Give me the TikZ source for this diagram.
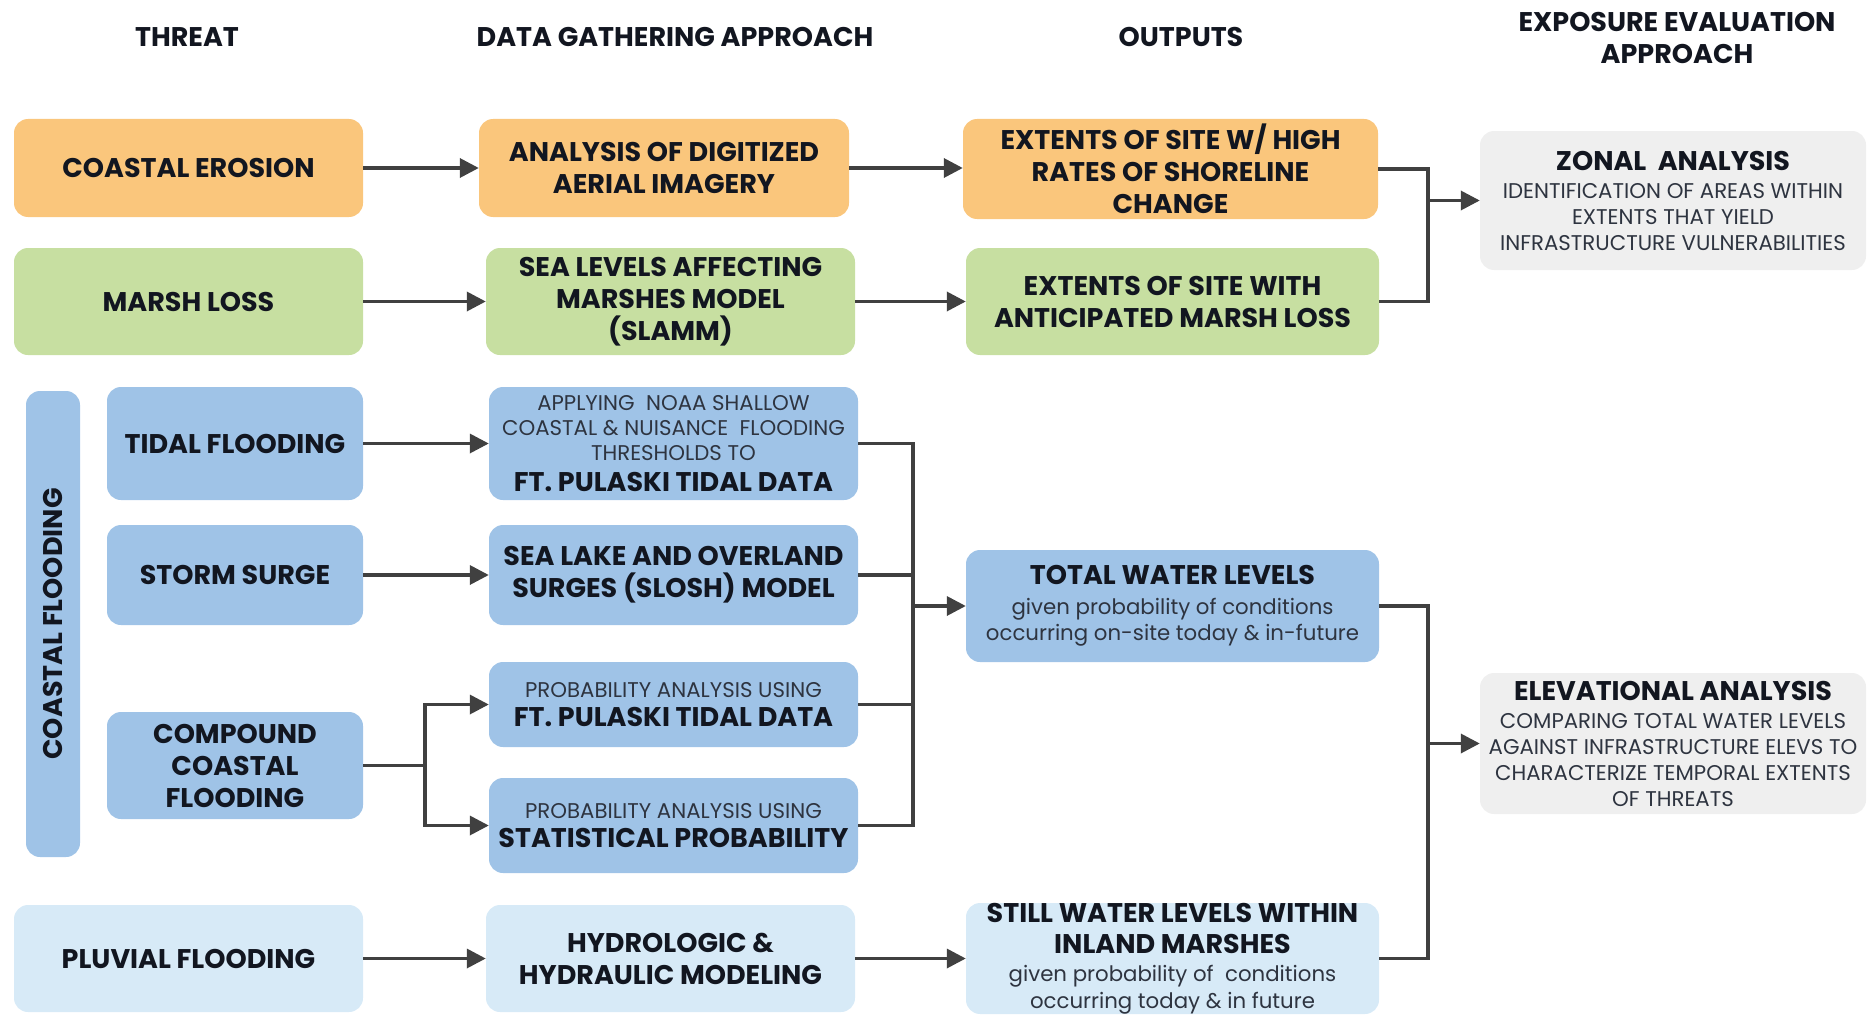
\documentclass[tikz,border=0pt]{standalone}
\usepackage{fontspec}
\setmainfont{Poppins}
\usetikzlibrary{arrows.meta}
\definecolor{cOr}{HTML}{FAC67C}
\definecolor{cGr}{HTML}{C7DFA1}
\definecolor{cBl}{HTML}{9FC3E7}
\definecolor{cLb}{HTML}{D7EAF7}
\definecolor{cGy}{HTML}{EFEFEF}
\definecolor{cLn}{HTML}{404040}
\definecolor{cTx}{HTML}{121620}
\definecolor{cSub}{HTML}{2E3440}
\newcommand{\bigtx}{\fontsize{27}{32}\selectfont\bfseries\color{cTx}}
\newcommand{\smtx}{\fontsize{21.3}{32}\selectfont\mdseries\color{cSub}}
\begin{document}
\begin{tikzpicture}[x=1pt,y=-1pt,
  box/.style={rounded corners=14pt, align=center, inner sep=0pt, text=cTx, font=\bigtx},
  hdr/.style={align=center, text=cTx, font=\bigtx},
  conn/.style={draw=cLn, line width=3.5pt},
  arr/.style={conn, -{Triangle[length=19pt,width=19pt]}}]
\useasboundingbox (0,0) rectangle (1867,1014);
% headers
\node[hdr] (h1) at (187,37) {THREAT};
\node[hdr] (h2) at (675,37) {DATA GATHERING APPROACH};
\node[hdr] (h3) at (1181,37) {OUTPUTS};
\node[hdr] (h4) at (1677,38) {EXPOSURE EVALUATION\\APPROACH};
% row 1
\node[box, fill=cOr, minimum width=349pt, minimum height=98pt] (ce) at (188.5,168) {COASTAL EROSION};
\node[box, fill=cOr, minimum width=370pt, minimum height=98pt] (adi) at (664,168) {ANALYSIS OF DIGITIZED\\AERIAL IMAGERY};
\node[box, fill=cOr, minimum width=415pt, minimum height=100pt] (exh) at (1170.5,169) {EXTENTS OF SITE W/ HIGH\\RATES OF SHORELINE\\CHANGE};
\node[box, fill=cGy, minimum width=386pt, minimum height=139pt] (za) at (1673,200.5) {ZONAL\ \ ANALYSIS\\[-4pt]\smtx IDENTIFICATION OF AREAS WITHIN\\[-6pt]\smtx EXTENTS THAT YIELD\\[-6pt]\smtx INFRASTRUCTURE VULNERABILITIES};
% row 2
\node[box, fill=cGr, minimum width=349pt, minimum height=107pt] (ml) at (188.5,301.5) {MARSH LOSS};
\node[box, fill=cGr, minimum width=369pt, minimum height=107pt] (sla) at (670.5,301.5) {SEA LEVELS AFFECTING\\MARSHES MODEL\\(SLAMM)};
\node[box, fill=cGr, minimum width=413pt, minimum height=107pt] (eml) at (1172.5,301.5) {EXTENTS OF SITE WITH\\ANTICIPATED MARSH LOSS};
% coastal flooding group
\node[box, fill=cBl, minimum width=54pt, minimum height=466pt] (cfb) at (53,624) {};
\node[text=cTx, font=\bigtx, rotate=90] (cft) at (cfb.center) {COASTAL FLOODING};
\node[box, fill=cBl, minimum width=256pt, minimum height=113pt] (tf) at (235,443.5) {TIDAL FLOODING};
\node[box, fill=cBl, minimum width=369pt, minimum height=113pt] (noaa) at (673.5,443.5) {\smtx APPLYING\ \ NOAA SHALLOW\\[-7pt]\smtx COASTAL \& NUISANCE\ \ FLOODING\\[-7pt]\smtx THRESHOLDS TO\\[-1pt]\bigtx FT. PULASKI TIDAL DATA};
\node[box, fill=cBl, minimum width=256pt, minimum height=100pt] (ss) at (235,575) {STORM SURGE};
\node[box, fill=cBl, minimum width=369pt, minimum height=100pt] (slosh) at (673.5,575) {SEA LAKE AND OVERLAND\\SURGES (SLOSH) MODEL};
\node[box, fill=cBl, minimum width=256pt, minimum height=107pt] (ccf) at (235,765.5) {COMPOUND\\COASTAL\\FLOODING};
\node[box, fill=cBl, minimum width=369pt, minimum height=85pt] (pft) at (673.5,704.5) {\smtx PROBABILITY ANALYSIS USING\\[-3pt]\bigtx FT. PULASKI TIDAL DATA};
\node[box, fill=cBl, minimum width=369pt, minimum height=95pt] (stat) at (673.5,825.5) {\smtx PROBABILITY ANALYSIS USING\\[-3pt]\bigtx STATISTICAL PROBABILITY};
\node[box, fill=cBl, minimum width=413pt, minimum height=112pt] (twl) at (1172.5,606) {TOTAL WATER LEVELS\\[-2pt]\smtx given probability of conditions\\[-6pt]\smtx occurring on-site today \& in-future};
\node[box, fill=cGy, minimum width=386pt, minimum height=141pt] (ea) at (1673,743.5) {ELEVATIONAL ANALYSIS\\[-3.5pt]\smtx COMPARING TOTAL WATER LEVELS\\[-6pt]\smtx AGAINST INFRASTRUCTURE ELEVS TO\\[-6pt]\smtx CHARACTERIZE TEMPORAL EXTENTS\\[-6.5pt]\smtx OF THREATS};
% pluvial
\node[box, fill=cLb, minimum width=349pt, minimum height=107pt] (pf) at (188.5,958.5) {PLUVIAL FLOODING};
\node[box, fill=cLb, minimum width=369pt, minimum height=107pt] (hh) at (670.5,958.5) {HYDROLOGIC \&\\HYDRAULIC MODELING};
\node[box, fill=cLb, minimum width=413pt, minimum height=107pt] (sw) at (1172.5,958.5) {STILL WATER LEVELS WITHIN\\[-1pt]INLAND MARSHES\\[-3.5pt]\smtx given probability of\ \ conditions\\[-5.5pt]\smtx occurring today \& in future};
% bus coordinates
\coordinate (b1) at (1428,0);
\coordinate (b2) at (913,0);
\coordinate (b3) at (425,0);
% connectors
\draw[arr] (ce.east) -- (adi.west);
\draw[arr] (adi.east) -- (adi.east -| exh.west);
\draw[arr] (ml.east) -- (sla.west);
\draw[arr] (sla.east) -- (eml.west);
\draw[conn] (exh.east) -- (exh.east -| b1) -- (eml.east -| b1) -- (eml.east);
\draw[arr] (b1 |- za.west) -- (za.west);
\draw[arr] (tf.east) -- (noaa.west);
\draw[arr] (ss.east) -- (slosh.west);
\draw[conn] (ccf.east) -- (ccf.east -| b3);
\draw[arr] (ccf.east -| b3) -- (pft.west -| b3) -- (pft.west);
\draw[arr] (ccf.east -| b3) -- (stat.west -| b3) -- (stat.west);
\draw[conn] (noaa.east) -- (noaa.east -| b2) -- (stat.east -| b2) -- (stat.east);
\draw[conn] (slosh.east) -- (slosh.east -| b2);
\draw[conn] (pft.east) -- (pft.east -| b2);
\draw[arr] (b2 |- twl.west) -- (twl.west);
\draw[conn] (twl.east) -- (twl.east -| b1) -- (sw.east -| b1) -- (sw.east);
\draw[arr] (b1 |- ea.west) -- (ea.west);
\draw[arr] (pf.east) -- (hh.west);
\draw[arr] (hh.east) -- (sw.west);
\end{tikzpicture}
\end{document}
